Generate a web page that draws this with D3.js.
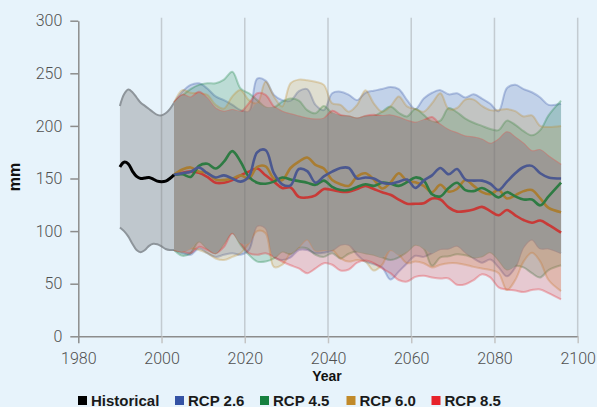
<!DOCTYPE html>
<html>
<head>
<meta charset="utf-8">
<script src="https://cdn.jsdelivr.net/npm/d3@7"></script>
<style>
  html, body { margin: 0; padding: 0; background: #e7f3fb; }
</style>
</head>
<body>
<div id="chart"></div>
<script>
// historical record
const histYears = [1990, 1991, 1992, 1993, 1994, 1995, 1996, 1997, 1998, 1999, 2000, 2001, 2002, 2003];
const histMid = [161, 165.5, 164, 157, 152, 150, 150.5, 151, 149.5, 147.5, 147, 147.5, 150, 153.5];
const histHi = [219, 230, 234.5, 232, 227, 222, 219, 216, 213, 210.5, 210, 212, 216, 222];
const histLo = [103.5, 100, 95, 88, 82, 80, 82, 86, 88, 87.5, 85.5, 83, 82, 82];

// projections
const years = [2003, 2005, 2007, 2009, 2011, 2013, 2015, 2017, 2019, 2021, 2023, 2025, 2027, 2029, 2031, 2033,
  2035, 2037, 2039, 2041, 2043, 2045, 2047, 2049, 2051, 2053, 2055, 2057, 2059, 2061, 2063, 2065,
  2067, 2069, 2071, 2073, 2075, 2077, 2079, 2081, 2083, 2085, 2087, 2089, 2091, 2093, 2096];

const rcp26Mid = [153.5, 155, 156.5, 160.5, 155, 151, 153, 150, 147, 152, 175, 177, 155, 144.5, 143.5, 159,
  157, 146, 152, 156.5, 160, 160, 150, 151, 150, 146, 145, 147, 149, 141, 148, 153,
  160, 154, 159, 149, 148, 148, 145, 139, 147, 155, 161, 162, 155, 151, 150];
const rcp45Mid = [153.5, 154, 151.5, 162, 164, 159.5, 166, 176, 166, 151.5, 146, 145, 147, 151, 149, 147.5,
  146, 144, 148, 142, 139, 139, 142, 144.5, 143, 146, 145, 143, 146.5, 151, 148, 135,
  133, 141, 146, 139, 138, 141, 137, 132, 137, 133, 130, 130, 124.5, 133, 146];
const rcp60Mid = [153.5, 158.5, 160.5, 156.5, 155.5, 149, 148.5, 150, 153, 150, 161, 161.5, 150, 148.5, 160, 166,
  170, 163, 159.5, 148.5, 144.5, 143, 152, 155, 149, 140.5, 146, 155, 147.5, 146.5, 143, 137,
  144, 137.5, 140, 148.5, 143, 137, 135, 139, 131, 134, 138, 139, 131, 122, 118];
const rcp85Mid = [153.5, 155.5, 156.5, 155.5, 151.5, 146, 146, 148.5, 153, 156.5, 159.5, 153, 147, 141, 141.5, 132.5,
  132, 134, 140, 139, 137.5, 137.5, 140, 143, 140, 137, 134.5, 130, 126, 126, 126.5, 131,
  130, 122.5, 118.5, 119, 120.5, 123, 119, 115, 120, 115, 110.5, 108, 110, 106, 98.5];

const rcp26Hi = [222, 232.5, 239, 240.5, 235.5, 228, 224.5, 220, 215, 213.5, 245, 243, 229.5, 224.5, 224, 233,
  235, 220, 215, 231, 232.5, 229.5, 224.5, 231.5, 233.5, 235, 237, 235, 224.5, 216, 226, 231.5,
  234, 230, 231, 227, 230, 226, 221, 214, 236, 239, 235, 232, 227, 220, 221];
const rcp45Hi = [222, 229, 235, 239, 240.5, 240.5, 244, 251.5, 235.5, 231, 224.5, 217.5, 217.5, 223, 226, 224,
  215, 212, 219, 212, 209.5, 209, 207, 209, 209.5, 213.5, 218.5, 212.5, 209, 216, 210.5, 204,
  205, 217, 213, 207, 203, 200, 197, 196, 205, 201, 195, 191, 196, 210, 224];
const rcp60Hi = [222, 234, 231.5, 231, 229.5, 220, 216.5, 228, 234, 224.5, 221.5, 242, 228, 218.5, 240.5, 244,
  243.5, 242, 239, 221.5, 220, 213.5, 220, 234, 221.5, 213.5, 218.5, 228, 218.5, 216, 213.5, 221.5,
  231, 216, 217, 225, 225, 219, 215, 215, 216, 214, 209, 210, 200, 199, 200];
const rcp85Hi = [222, 229.5, 227, 232.5, 226, 216.5, 213.5, 215, 213.5, 221.5, 231, 229.5, 218.5, 213.5, 211, 209,
  207, 206, 207, 214.5, 210.5, 209, 207, 209.5, 210.5, 209.5, 210, 208, 205, 203, 205.5, 208.5,
  201, 196, 193, 190, 189, 187, 183, 187, 194, 189, 183, 176, 177, 171, 163];

const rcp26Lo = [82, 79, 77.5, 83.5, 79, 75.5, 77.5, 79, 77.5, 82, 105, 103, 75.5, 72.5, 75, 82,
  82, 79, 79.5, 81.5, 87, 87, 77.5, 71, 68.5, 65.5, 54, 61.5, 69.5, 76.5, 75.5, 79,
  83, 83.5, 86, 80, 74, 70, 73, 65.5, 57, 65.5, 85, 92, 83.5, 83.5, 79];
const rcp45Lo = [82, 76.5, 79, 90, 83.5, 79, 88.5, 98.5, 87, 77.5, 71, 71, 74, 80.5, 78, 84,
  83.5, 77.5, 75.5, 79, 74, 78.5, 80.5, 79, 77.5, 75, 72.5, 75, 80.5, 87, 83.5, 67,
  75, 76, 78, 77, 75, 76, 80, 72.5, 63.5, 67, 65.5, 60, 56, 63, 67.5];
const rcp60Lo = [82, 80.5, 83.5, 82, 79, 74, 72.5, 75.5, 79, 88.5, 100, 98, 66, 68, 79, 85,
  92, 81.5, 82, 82, 74, 71, 72.5, 71, 62.5, 68, 82, 77.5, 69.5, 71, 69.5, 65.5,
  68, 69.5, 69.5, 68, 66, 64.5, 63, 60, 44, 53.5, 71, 79.5, 71, 53.5, 43];
const rcp85Lo = [82, 80.5, 79, 85, 82, 79, 85, 98, 88.5, 79, 77.5, 79, 75.5, 71, 67.5, 64.5,
  60, 64.5, 69.5, 68, 62.5, 63.5, 70, 72, 69.5, 64.5, 60, 53.5, 52, 56.5, 57.5, 56,
  55, 55, 49, 49.5, 53.5, 59, 56, 46.5, 44.5, 43.5, 42, 44, 44.5, 41, 35];

const yTicks = [0, 50, 100, 150, 200, 250, 300];
const xTicks = [1980, 2000, 2020, 2040, 2060, 2080, 2100];
const legendLabels = ['Historical', 'RCP 2.6', 'RCP 4.5', 'RCP 6.0', 'RCP 8.5'];

const scenarios = [
  { key: 'RCP 2.6', color: '#3452a4', line: '#4b5890', mid: rcp26Mid, hi: rcp26Hi, lo: rcp26Lo },
  { key: 'RCP 4.5', color: '#16803f', line: '#2e7b43', mid: rcp45Mid, hi: rcp45Hi, lo: rcp45Lo },
  { key: 'RCP 6.0', color: '#c18a2a', line: '#a97d32', mid: rcp60Mid, hi: rcp60Hi, lo: rcp60Lo },
  { key: 'RCP 8.5', color: '#e7232b', line: '#c83a37', mid: rcp85Mid, hi: rcp85Hi, lo: rcp85Lo }
];
const legendColors = ['#000000', '#3452a4', '#16803f', '#c18a2a', '#e7232b'];

const W = 597, H = 407;
const svg = d3.select('#chart').append('svg')
  .attr('width', W).attr('height', H)
  .style('display', 'block');

svg.append('rect').attr('width', W).attr('height', H).attr('fill', '#e7f3fb');

const x = d3.scaleLinear().domain([1980, 2100]).range([78.3, 577.7]);
const y = d3.scaleLinear().domain([0, 300]).range([336.3, 20.7]);

const curve = d3.curveCatmullRom.alpha(0.5);

// historical band
const histIdx = d3.range(histYears.length);
const histArea = d3.area()
  .x(i => x(histYears[i])).y0(i => y(histLo[i])).y1(i => y(histHi[i])).curve(curve);
const histEdge = arr => d3.line().x(i => x(histYears[i])).y(i => y(arr[i])).curve(curve);

svg.append('path').datum(histIdx).attr('d', histArea).attr('fill', '#bfc7cd');
[histHi, histLo].forEach(a => {
  svg.append('path').datum(histIdx).attr('d', histEdge(a))
    .attr('fill', 'none').attr('stroke', '#8e959b').attr('stroke-width', 2);
});

// scenario bands
const idx = d3.range(years.length);
const bands = svg.append('g').attr('class', 'bands');
scenarios.forEach(s => {
  const area = d3.area().x(i => x(years[i])).y0(i => y(s.lo[i])).y1(i => y(s.hi[i])).curve(curve);
  bands.append('path').datum(idx).attr('d', area)
    .attr('fill', s.color).attr('fill-opacity', 0.2);
  [s.hi, s.lo].forEach(a => {
    bands.append('path').datum(idx)
      .attr('d', d3.line().x(i => x(years[i])).y(i => y(a[i])).curve(curve))
      .attr('fill', 'none').attr('stroke', s.color)
      .attr('stroke-opacity', 0.3).attr('stroke-width', 2);
  });
});

// range shared by all scenarios
const coreHi = idx.map(i => d3.min(scenarios, s => s.hi[i]));
const coreLo = idx.map(i => d3.max(scenarios, s => s.lo[i]));
svg.append('path').datum(idx)
  .attr('d', d3.area().x(i => x(years[i])).y0(i => y(coreLo[i])).y1(i => y(coreHi[i])).curve(curve))
  .attr('fill', '#9c9995');

// grid lines
svg.append('g').selectAll('line')
  .data(xTicks.slice(1))
  .join('line')
  .attr('x1', d => x(d)).attr('x2', d => x(d))
  .attr('y1', y(300) - 3).attr('y2', y(0))
  .attr('stroke', '#6f6f6f').attr('stroke-opacity', 0.3).attr('stroke-width', 1.5);

// median lines
[...scenarios].reverse().forEach(s => {
  svg.append('path').datum(idx)
    .attr('d', d3.line().x(i => x(years[i])).y(i => y(s.mid[i])).curve(curve))
    .attr('fill', 'none').attr('stroke', s.line).attr('stroke-width', 2.6)
    .attr('stroke-linejoin', 'round');
});
svg.append('path').datum(histIdx)
  .attr('d', histEdge(histMid))
  .attr('fill', 'none').attr('stroke', '#000').attr('stroke-width', 3);

// axes
const tickFont = 'Roboto, "Liberation Sans", sans-serif';
const yAxis = svg.append('g')
  .attr('transform', `translate(${x(1980)},0)`)
  .call(d3.axisLeft(y).tickValues(yTicks).tickSize(8).tickPadding(8).tickSizeOuter(0));
const xAxis = svg.append('g')
  .attr('transform', `translate(0,${y(0)})`)
  .call(d3.axisBottom(x).tickValues(xTicks).tickSize(7).tickPadding(9).tickSizeOuter(0).tickFormat(d3.format('d')));

[yAxis, xAxis].forEach(g => {
  g.select('.domain').attr('stroke', '#8c8c8c').attr('stroke-width', 1.5);
  g.selectAll('.tick line').attr('stroke', '#8c8c8c').attr('stroke-width', 1.5);
  g.selectAll('.tick text')
    .attr('fill', '#505050')
    .style('font-family', tickFont)
    .style('font-weight', 300)
    .style('font-size', '16px');
});
xAxis.selectAll('.tick line').filter(d => d !== 1980).attr('stroke', '#c4c4c4');

svg.append('text')
  .attr('transform', `translate(19.5,177) rotate(-90)`)
  .attr('text-anchor', 'middle')
  .style('font-family', '"Liberation Sans", Arial, sans-serif')
  .style('font-weight', 'bold').style('font-size', '16px')
  .attr('fill', '#111')
  .text('mm');

svg.append('text')
  .attr('x', 327).attr('y', 381)
  .attr('text-anchor', 'middle')
  .style('font-family', '"Liberation Sans", Arial, sans-serif')
  .style('font-weight', 'bold').style('font-size', '14px')
  .attr('fill', '#111')
  .text('Year');

// legend
const legendX = [78, 175, 260, 346.5, 431.5];
const legend = svg.append('g').selectAll('g')
  .data(legendLabels)
  .join('g')
  .attr('transform', (d, i) => `translate(${legendX[i]},396)`);
legend.append('rect')
  .attr('width', 9).attr('height', 9)
  .attr('fill', (d, i) => legendColors[i]);
legend.append('text')
  .attr('x', 13).attr('y', 9.5)
  .style('font-family', '"Liberation Sans", Arial, sans-serif')
  .style('font-weight', 'bold').style('font-size', '15px')
  .attr('fill', '#1a1a1a')
  .text(d => d);
</script>
</body>
</html>
